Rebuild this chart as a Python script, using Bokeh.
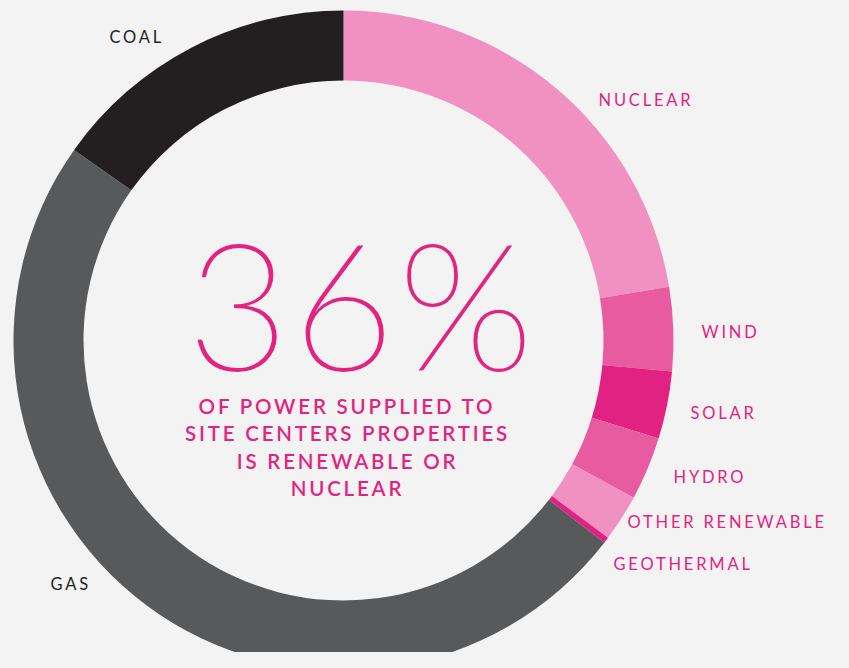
import math
from bokeh.plotting import figure
from bokeh.models import Range1d, ColumnDataSource
from bokeh.core.properties import value
from bokeh.embed import file_html
from bokeh.resources import INLINE

# ---- data (percent share of power supply) ----
sources = ["NUCLEAR", "WIND", "SOLAR", "HYDRO", "OTHER RENEWABLE", "GEOTHERMAL", "GAS", "COAL"]
shares = [22.4, 4.1, 3.3, 3.1, 2.3, 0.3, 49.3, 15.2]
colors = ["#f191c1", "#e95ba0", "#e22283", "#e95ba0", "#f191c1", "#e22283", "#58595b", "#231f20"]
label_colors = ["#e3237f"] * 6 + ["#231f20", "#231f20"]
headline = "36%"
subtitle_lines = ["OF POWER SUPPLIED TO", "SITE CENTERS PROPERTIES", "IS RENEWABLE OR", "NUCLEAR"]

# ---- layout (pixel-like coordinates, y measured upward) ----
W, H = 833, 652
PAGE_H = 668
LETTER_SPACING = 2.8
cx, cy = 343, PAGE_H - 340
r_out, r_in = 330, 260
# label anchors (left edge x, top-down pixel y)
label_pos = [(598, 99), (701, 331), (690, 412), (673, 476), (627, 521), (613, 563), (50, 583), (109, 36)]

total = sum(shares)
starts, ends = [], []
acc = 0.0
for s in shares:
    a0 = acc / total * 2 * math.pi
    acc += s
    a1 = acc / total * 2 * math.pi
    starts.append(math.pi / 2 - a0)
    ends.append(math.pi / 2 - a1)

src = ColumnDataSource(dict(start=starts, end=ends, color=colors, name=sources))

p = figure(width=W, height=H, output_backend="svg", toolbar_location=None,
           x_range=Range1d(0, W), y_range=Range1d(PAGE_H - H, PAGE_H),
           min_border=0)
p.axis.visible = False
p.grid.visible = False
p.outline_line_color = None
p.background_fill_color = "#f3f3f3"
p.border_fill_color = "#f3f3f3"

p.annular_wedge(x=cx, y=cy, inner_radius=r_in, outer_radius=r_out,
                start_angle="start", end_angle="end", direction="clock",
                fill_color="color", line_color=None, source=src)

# slice labels
lsrc = ColumnDataSource(dict(
    x=[lp[0] for lp in label_pos],
    y=[PAGE_H - lp[1] for lp in label_pos],
    text=sources, color=label_colors))
p.text(x="x", y="y", text="text", text_color="color", source=lsrc,
       text_font=value("Lato"), text_font_size="16.5px",
       text_align="left", text_baseline="middle")

# headline
p.text(x=[357], y=[PAGE_H - 302], text=[headline], text_color="#e3237f",
       text_font=value("Lato Thin"),
       text_font_size="177px", text_align="center", text_baseline="alphabetic")

# subtitle (centre corrected for the page's letter spacing)
sub_y = [405, 432, 460, 487]
sub_x = [347 - len(t) * LETTER_SPACING / 2 for t in subtitle_lines]
p.text(x=sub_x, y=[PAGE_H - v for v in sub_y], text=subtitle_lines,
       text_color="#e3237f", text_font=value("Lato Semibold"),
       text_font_size="20.5px", text_align="center", text_baseline="middle")

html = file_html(p, INLINE)
html = html.replace("</head>",
                    "<style>html,body{background:#f3f3f3;letter-spacing:%spx;}</style></head>" % LETTER_SPACING, 1)
open("out.html", "w").write(html)
